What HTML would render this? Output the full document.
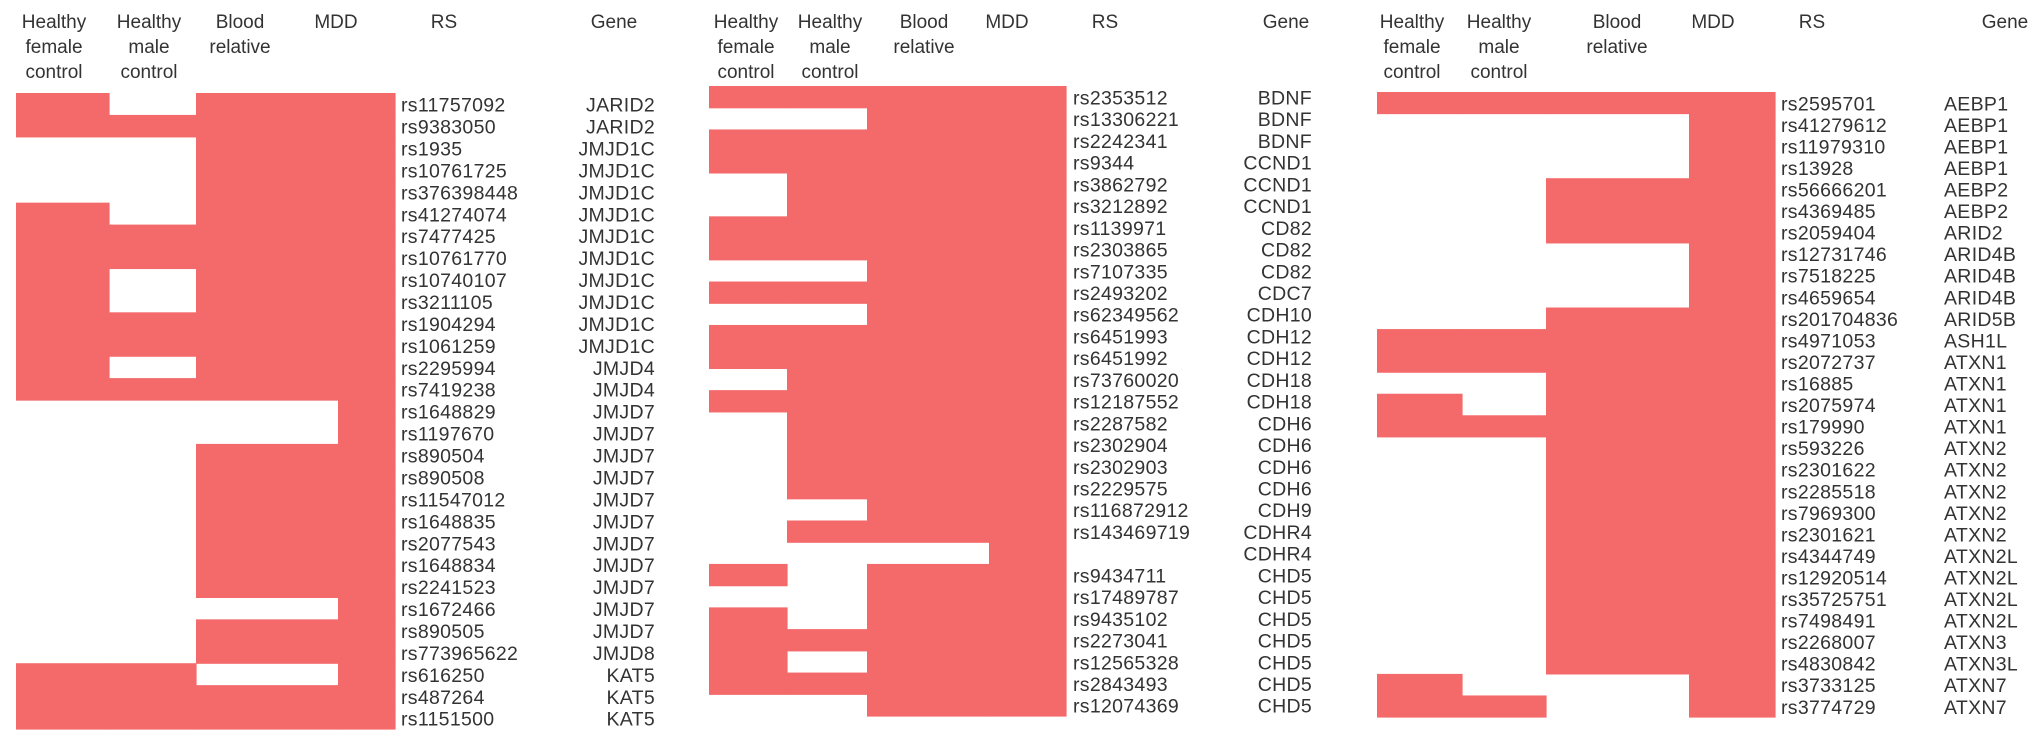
<!DOCTYPE html>
<html><head><meta charset="utf-8"><style>
html,body{margin:0;padding:0;background:#fff;}
svg{display:block;}
text{font-family:"Liberation Sans",Arial,sans-serif;fill:#333;}
</style></head><body>
<svg id="chart" width="2032" height="749" viewBox="0 0 2032 749" xmlns="http://www.w3.org/2000/svg"></svg>
<script>
const columns = ["Healthy female control","Healthy male control","Blood relative","MDD"];

const p1Rs = ["rs11757092","rs9383050","rs1935","rs10761725","rs376398448","rs41274074","rs7477425","rs10761770","rs10740107","rs3211105","rs1904294","rs1061259","rs2295994","rs7419238","rs1648829","rs1197670","rs890504","rs890508","rs11547012","rs1648835","rs2077543","rs1648834","rs2241523","rs1672466","rs890505","rs773965622","rs616250","rs487264","rs1151500"];
const p1Gene = ["JARID2","JARID2","JMJD1C","JMJD1C","JMJD1C","JMJD1C","JMJD1C","JMJD1C","JMJD1C","JMJD1C","JMJD1C","JMJD1C","JMJD4","JMJD4","JMJD7","JMJD7","JMJD7","JMJD7","JMJD7","JMJD7","JMJD7","JMJD7","JMJD7","JMJD7","JMJD7","JMJD8","KAT5","KAT5","KAT5"];
const p1Values = [[1,0,1,1],[1,1,1,1],[0,0,1,1],[0,0,1,1],[0,0,1,1],[1,0,1,1],[1,1,1,1],[1,1,1,1],[1,0,1,1],[1,0,1,1],[1,1,1,1],[1,1,1,1],[1,0,1,1],[1,1,1,1],[0,0,0,1],[0,0,0,1],[0,0,1,1],[0,0,1,1],[0,0,1,1],[0,0,1,1],[0,0,1,1],[0,0,1,1],[0,0,1,1],[0,0,0,1],[0,0,1,1],[0,0,1,1],[1,1,0,1],[1,1,1,1],[1,1,1,1]];

const p2Rs = ["rs2353512","rs13306221","rs2242341","rs9344","rs3862792","rs3212892","rs1139971","rs2303865","rs7107335","rs2493202","rs62349562","rs6451993","rs6451992","rs73760020","rs12187552","rs2287582","rs2302904","rs2302903","rs2229575","rs116872912","rs143469719","","rs9434711","rs17489787","rs9435102","rs2273041","rs12565328","rs2843493","rs12074369"];
const p2Gene = ["BDNF","BDNF","BDNF","CCND1","CCND1","CCND1","CD82","CD82","CD82","CDC7","CDH10","CDH12","CDH12","CDH18","CDH18","CDH6","CDH6","CDH6","CDH6","CDH9","CDHR4","CDHR4","CHD5","CHD5","CHD5","CHD5","CHD5","CHD5","CHD5"];
const p2Values = [[1,1,1,1],[0,0,1,1],[1,1,1,1],[1,1,1,1],[0,1,1,1],[0,1,1,1],[1,1,1,1],[1,1,1,1],[0,0,1,1],[1,1,1,1],[0,0,1,1],[1,1,1,1],[1,1,1,1],[0,1,1,1],[1,1,1,1],[0,1,1,1],[0,1,1,1],[0,1,1,1],[0,1,1,1],[0,0,1,1],[0,1,1,1],[0,0,0,1],[1,0,1,1],[0,0,1,1],[1,0,1,1],[1,1,1,1],[1,0,1,1],[1,1,1,1],[0,0,1,1]];

const p3Rs = ["rs2595701","rs41279612","rs11979310","rs13928","rs56666201","rs4369485","rs2059404","rs12731746","rs7518225","rs4659654","rs201704836","rs4971053","rs2072737","rs16885","rs2075974","rs179990","rs593226","rs2301622","rs2285518","rs7969300","rs2301621","rs4344749","rs12920514","rs35725751","rs7498491","rs2268007","rs4830842","rs3733125","rs3774729"];
const p3Gene = ["AEBP1","AEBP1","AEBP1","AEBP1","AEBP2","AEBP2","ARID2","ARID4B","ARID4B","ARID4B","ARID5B","ASH1L","ATXN1","ATXN1","ATXN1","ATXN1","ATXN2","ATXN2","ATXN2","ATXN2","ATXN2","ATXN2L","ATXN2L","ATXN2L","ATXN2L","ATXN3","ATXN3L","ATXN7","ATXN7"];
const p3Values = [[1,1,1,1],[0,0,0,1],[0,0,0,1],[0,0,0,1],[0,0,1,1],[0,0,1,1],[0,0,1,1],[0,0,0,1],[0,0,0,1],[0,0,0,1],[0,0,1,1],[1,1,1,1],[1,1,1,1],[0,0,1,1],[1,0,1,1],[1,1,1,1],[0,0,1,1],[0,0,1,1],[0,0,1,1],[0,0,1,1],[0,0,1,1],[0,0,1,1],[0,0,1,1],[0,0,1,1],[0,0,1,1],[0,0,1,1],[0,0,1,1],[1,0,0,1],[1,1,0,1]];

const NS = "http://www.w3.org/2000/svg";
const svg = document.getElementById("chart");
const panels = [
  {id:"p1", rs:p1Rs, gene:p1Gene, vals:p1Values, xs:[16,109,196,338,395], top:93, bottom:729, rsX:401, geneX:655, geneAnchor:"end",
   hx:[54,149,240,336], rsH:444, geneH:614},
  {id:"p2", rs:p2Rs, gene:p2Gene, vals:p2Values, xs:[709,787,867,989,1066], top:86, bottom:716, rsX:1073, geneX:1312, geneAnchor:"end",
   hx:[746,830,924,1007], rsH:1105, geneH:1286},
  {id:"p3", rs:p3Rs, gene:p3Gene, vals:p3Values, xs:[1377,1462,1546,1689,1775], top:92, bottom:717, rsX:1781, geneX:1944, geneAnchor:"start",
   hx:[1412,1499,1617,1713], rsH:1812, geneH:2005}
];
const headerLines = [["Healthy","female","control"],["Healthy","male","control"],["Blood","relative"],["MDD"]];

function mk(tag, attrs, parent){
  const el = document.createElementNS(NS, tag);
  for (const k in attrs) el.setAttribute(k, attrs[k]);
  parent.appendChild(el);
  return el;
}

panels.forEach(p => {
  const g = mk("g", {}, svg);
  
  
  const n = p.vals.length;
  const h = (p.bottom - p.top) / n;
  const yOf = i => p.top + i * h;
  headerLines.forEach((lines, c) => {
    const t = mk("text", {x:p.hx[c], "text-anchor":"middle", "font-size":19}, g);
    
    
    lines.forEach((ln, k) => {
      const ts = mk("tspan", {x:p.hx[c], y:28 + k*25}, t);
      ts.textContent = ln;
    });
  });
  const rsh = mk("text", {x:p.rsH, y:28, "text-anchor":"middle", "font-size":19}, g);
  
  
  rsh.textContent = "RS";
  const gh = mk("text", {x:p.geneH, y:28, "text-anchor":"middle", "font-size":19}, g);
  
  
  gh.textContent = "Gene";
  p.vals.forEach((row, i) => {
    row.forEach((v, c) => {
      if (!v) return;
      const r = mk("rect", {x:p.xs[c], y:yOf(i), width:p.xs[c+1]-p.xs[c]+0.6, height:h+0.6, fill:"#f46a6a"}, g);
      
      
    });
    const by = yOf(i) + h*0.85;
    if (p.rs[i]) {
      const t = mk("text", {x:p.rsX, y:by, "font-size":19.5, "letter-spacing":"0.3"}, g);
      
      
      t.textContent = p.rs[i];
    }
    const gt = mk("text", {x:p.geneX, y:by, "font-size":19.5, "text-anchor":p.geneAnchor, "letter-spacing":"0.3"}, g);
    
    
    gt.textContent = p.gene[i];
  });
});
</script>
</body></html>
